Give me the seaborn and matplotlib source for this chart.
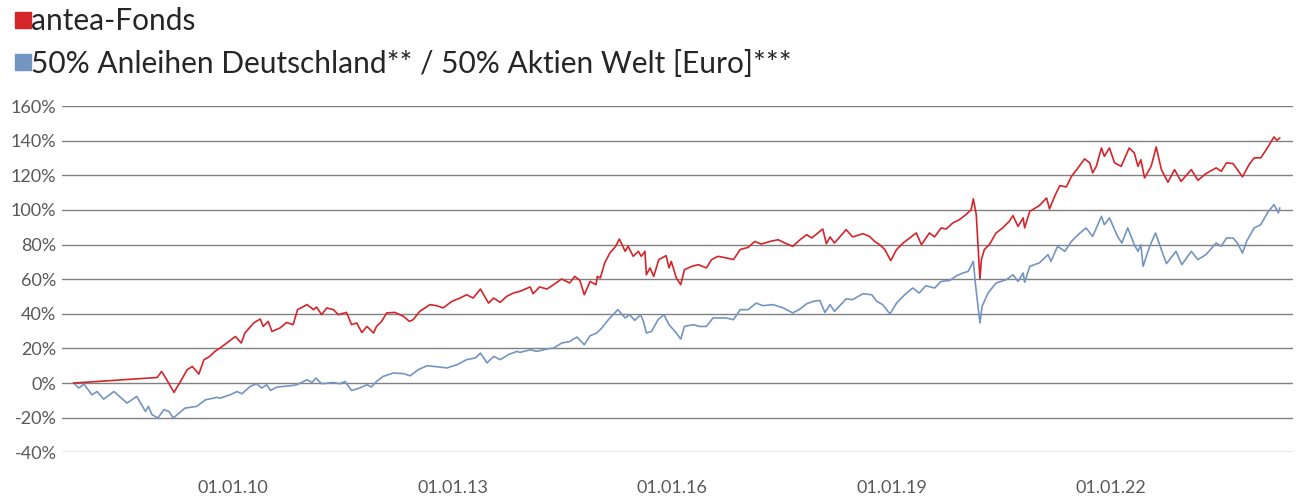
import pandas as pd
import numpy as np
import matplotlib
matplotlib.use("Agg")
import matplotlib.pyplot as plt
import matplotlib.dates as mdates
from matplotlib.lines import Line2D
import seaborn as sns

fonds_t = [2007.82, 2008.96, 2009.02, 2009.09, 2009.19, 2009.28, 2009.37, 2009.44, 2009.53, 2009.60,
           2009.68, 2009.75, 2009.82, 2009.91, 2010.03, 2010.11, 2010.16, 2010.28, 2010.37, 2010.41,
           2010.48, 2010.53, 2010.64, 2010.73, 2010.82, 2010.88, 2011.01, 2011.10, 2011.14, 2011.21,
           2011.28, 2011.37, 2011.44, 2011.55, 2011.62, 2011.69, 2011.76, 2011.83, 2011.92, 2011.96,
           2012.03, 2012.10, 2012.21, 2012.33, 2012.41, 2012.46, 2012.55, 2012.69, 2012.78, 2012.87,
           2012.99, 2013.10, 2013.19, 2013.28, 2013.38, 2013.49, 2013.56, 2013.65, 2013.74, 2013.83,
           2013.92, 2014.06, 2014.10, 2014.19, 2014.29, 2014.38, 2014.49, 2014.60, 2014.67, 2014.74,
           2014.80, 2014.88, 2014.96, 2014.98, 2015.02, 2015.08, 2015.15, 2015.23, 2015.28, 2015.36,
           2015.40, 2015.47, 2015.54, 2015.58, 2015.63, 2015.65, 2015.70, 2015.75, 2015.82, 2015.92,
           2015.96, 2015.99, 2016.06, 2016.12, 2016.17, 2016.27, 2016.36, 2016.47, 2016.54, 2016.63,
           2016.74, 2016.84, 2016.93, 2017.04, 2017.13, 2017.22, 2017.34, 2017.45, 2017.54, 2017.65,
           2017.75, 2017.84, 2017.91, 2018.02, 2018.06, 2018.11, 2018.16, 2018.22, 2018.38, 2018.47,
           2018.61, 2018.70, 2018.77, 2018.84, 2018.91, 2018.99, 2019.07, 2019.16, 2019.27, 2019.34,
           2019.41, 2019.52, 2019.59, 2019.68, 2019.75, 2019.84, 2019.93, 2020.02, 2020.09, 2020.12,
           2020.16, 2020.18, 2020.21, 2020.23, 2020.27, 2020.34, 2020.43, 2020.52, 2020.61, 2020.66,
           2020.73, 2020.80, 2020.82, 2020.89, 2021.02, 2021.12, 2021.16, 2021.23, 2021.30, 2021.39,
           2021.46, 2021.55, 2021.64, 2021.71, 2021.75, 2021.80, 2021.87, 2021.91, 2021.98, 2022.05,
           2022.14, 2022.25, 2022.32, 2022.37, 2022.41, 2022.46, 2022.55, 2022.62, 2022.69, 2022.78,
           2022.87, 2022.96, 2023.10, 2023.19, 2023.30, 2023.44, 2023.51, 2023.58, 2023.67, 2023.73,
           2023.80, 2023.89, 2023.96, 2024.05, 2024.14, 2024.23, 2024.27, 2024.31]
fonds_v = [0.0, 3.2, 6.7, 2.0, -5.4, 1.0, 7.7, 9.6, 5.2, 13.5,
           15.4, 18.3, 20.2, 23.1, 26.9, 23.1, 28.9, 34.7, 37.0, 32.7,
           35.6, 29.8, 31.8, 35.0, 33.7, 42.4, 45.3, 42.4, 43.9, 39.5,
           43.4, 42.4, 39.5, 40.8, 33.7, 34.7, 29.2, 32.7, 28.9, 32.7,
           35.6, 40.5, 40.8, 38.5, 35.6, 36.6, 41.4, 45.3, 44.7, 43.4,
           47.2, 49.1, 51.0, 49.1, 54.3, 46.2, 49.1, 46.6, 50.1, 52.0,
           53.0, 55.5, 51.6, 55.5, 54.3, 56.8, 60.1, 57.8, 61.6, 59.3,
           51.0, 58.7, 56.8, 61.6, 60.7, 69.4, 75.1, 79.0, 83.2, 76.1,
           79.0, 73.2, 76.1, 73.2, 76.1, 62.6, 66.5, 61.6, 71.3, 73.6,
           66.5, 70.3, 60.7, 56.8, 65.5, 67.4, 68.4, 66.5, 71.3, 73.2,
           72.3, 71.3, 77.1, 78.4, 81.8, 80.3, 81.8, 82.8, 80.9, 79.0,
           82.8, 85.7, 83.8, 87.6, 89.0, 80.5, 84.4, 80.9, 88.6, 84.4,
           86.3, 84.7, 81.8, 79.9, 77.1, 70.7, 77.1, 80.9, 84.4, 86.7,
           79.9, 86.7, 84.4, 89.6, 89.0, 92.5, 94.4, 97.3, 100.2, 106.4,
           97.3, 82.8, 60.1, 71.3, 77.1, 80.0, 86.7, 89.6, 93.4, 96.7,
           90.5, 95.4, 89.6, 99.2, 102.5, 106.9, 100.6, 107.9, 114.0, 113.3,
           119.4, 124.3, 129.5, 127.2, 121.4, 125.2, 135.8, 131.0, 135.8, 127.2,
           125.2, 135.8, 132.9, 125.2, 129.0, 118.5, 125.2, 136.4, 123.3, 116.0,
           123.3, 116.5, 123.3, 117.1, 121.0, 124.3, 122.3, 127.2, 126.8, 123.3,
           119.1, 126.2, 130.1, 130.1, 135.8, 142.2, 140.2, 141.6]

bench_t = [2007.82, 2007.89, 2007.96, 2008.07, 2008.14, 2008.23, 2008.37, 2008.55, 2008.68, 2008.80,
           2008.84, 2008.89, 2008.97, 2009.05, 2009.12, 2009.18, 2009.34, 2009.50, 2009.62, 2009.78,
           2009.82, 2009.96, 2010.05, 2010.12, 2010.23, 2010.32, 2010.39, 2010.46, 2010.51, 2010.60,
           2010.78, 2010.87, 2011.01, 2011.08, 2011.13, 2011.21, 2011.37, 2011.46, 2011.53, 2011.62,
           2011.73, 2011.83, 2011.89, 2011.96, 2012.05, 2012.19, 2012.33, 2012.42, 2012.53, 2012.65,
           2012.83, 2012.92, 2013.06, 2013.19, 2013.31, 2013.38, 2013.47, 2013.56, 2013.65, 2013.76,
           2013.88, 2013.92, 2014.06, 2014.15, 2014.29, 2014.38, 2014.49, 2014.60, 2014.70, 2014.80,
           2014.88, 2014.97, 2015.04, 2015.13, 2015.26, 2015.36, 2015.42, 2015.49, 2015.57, 2015.61,
           2015.65, 2015.72, 2015.81, 2015.89, 2015.96, 2016.06, 2016.12, 2016.17, 2016.29, 2016.38,
           2016.47, 2016.56, 2016.74, 2016.84, 2016.93, 2017.04, 2017.15, 2017.24, 2017.38, 2017.52,
           2017.65, 2017.75, 2017.84, 2017.93, 2018.02, 2018.09, 2018.16, 2018.22, 2018.38, 2018.47,
           2018.61, 2018.73, 2018.80, 2018.88, 2018.98, 2019.07, 2019.18, 2019.29, 2019.38, 2019.47,
           2019.59, 2019.68, 2019.80, 2019.89, 2019.98, 2020.05, 2020.12, 2020.15, 2020.21, 2020.24,
           2020.32, 2020.43, 2020.57, 2020.66, 2020.73, 2020.80, 2020.82, 2020.89, 2021.02, 2021.14,
           2021.18, 2021.27, 2021.37, 2021.46, 2021.55, 2021.66, 2021.75, 2021.87, 2021.91, 2021.98,
           2022.05, 2022.09, 2022.15, 2022.23, 2022.32, 2022.37, 2022.41, 2022.44, 2022.53, 2022.61,
           2022.69, 2022.76, 2022.89, 2022.97, 2023.10, 2023.19, 2023.30, 2023.44, 2023.51, 2023.58,
           2023.67, 2023.73, 2023.80, 2023.86, 2023.96, 2024.05, 2024.14, 2024.23, 2024.29, 2024.31]
bench_v = [0.0, -2.9, -0.6, -6.8, -4.9, -9.3, -4.9, -11.6, -7.7, -16.4,
           -13.5, -18.3, -20.2, -15.4, -16.4, -20.2, -14.5, -13.5, -9.7, -8.3,
           -8.7, -6.8, -4.9, -6.2, -2.0, -0.4, -2.9, -1.0, -4.3, -2.3,
           -1.6, -1.0, 1.9, 0.3, 2.9, -0.4, 0.3, -0.4, 0.9, -4.3,
           -2.9, -1.0, -2.3, 0.9, 3.8, 5.8, 5.4, 4.2, 7.7, 10.0,
           9.2, 8.7, 10.6, 13.5, 14.5, 17.3, 11.6, 15.4, 13.5, 16.4,
           18.3, 17.7, 19.2, 18.3, 19.7, 20.2, 23.1, 24.0, 26.6, 22.1,
           27.3, 28.9, 31.8, 36.6, 42.4, 37.6, 39.5, 36.2, 39.5, 35.6,
           28.9, 29.8, 36.6, 39.5, 33.7, 28.9, 25.4, 32.7, 33.7, 32.7,
           32.7, 37.6, 37.6, 36.6, 42.4, 42.4, 46.2, 44.7, 45.3, 43.4,
           40.5, 42.8, 45.8, 47.2, 47.7, 40.8, 45.3, 41.4, 48.6, 48.2,
           51.6, 51.0, 47.2, 45.3, 39.9, 46.2, 51.0, 54.9, 52.0, 56.2,
           54.9, 58.7, 59.3, 62.0, 63.6, 64.5, 70.3, 56.8, 34.7, 44.3,
           52.0, 57.8, 59.7, 62.6, 58.7, 63.6, 58.2, 67.4, 69.4, 74.2,
           70.3, 79.0, 76.1, 81.8, 85.7, 89.6, 84.7, 96.3, 91.5, 95.4,
           88.6, 84.7, 80.9, 89.6, 79.9, 76.1, 79.9, 67.4, 79.0, 86.7,
           77.1, 69.0, 76.1, 68.4, 76.1, 71.3, 74.2, 80.9, 79.0, 83.8,
           83.8, 80.9, 75.1, 82.2, 89.6, 91.5, 98.3, 103.1, 98.3, 101.2]

series_names = ["antea-Fonds", "50% Anleihen Deutschland** / 50% Aktien Welt [Euro]***"]
y_ticks = [-40, -20, 0, 20, 40, 60, 80, 100, 120, 140, 160]
x_tick_years = [2010, 2013, 2016, 2019, 2022]


def to_date(y):
    year = int(np.floor(y))
    start = pd.Timestamp(year=year, month=1, day=1)
    end = pd.Timestamp(year=year + 1, month=1, day=1)
    return start + (end - start) * (y - year)


df = pd.concat([
    pd.DataFrame({"Datum": [to_date(t) for t in fonds_t], "Wert": fonds_v, "Serie": series_names[0]}),
    pd.DataFrame({"Datum": [to_date(t) for t in bench_t], "Wert": bench_v, "Serie": series_names[1]}),
])

red = "#d4252b"
blue = "#7395c2"
farben = {series_names[0]: red, series_names[1]: blue}

sns.set_style("white")
plt.rcParams["font.family"] = ["Lato", "DejaVu Sans"]

fig = plt.figure(figsize=(12.99, 4.98), dpi=100)
ax = fig.add_axes([0.0477, 0.0918, 0.9477, 0.6952])

# Benchmark zuerst, Fonds darueber
sns.lineplot(data=df, x="Datum", y="Wert", hue="Serie", palette=farben,
             hue_order=series_names[::-1], estimator=None, linewidth=1.2, ax=ax, legend=False)

ax.set_ylim(-40, 160)
ax.set_xlim(to_date(2007.66), to_date(2024.49))
ax.set_yticks(y_ticks)
ax.set_yticklabels([f"{v}%" for v in y_ticks])
ax.set_xticks([pd.Timestamp(year=y, month=1, day=1) for y in x_tick_years])
ax.xaxis.set_major_formatter(mdates.DateFormatter("%d.%m.%y"))
ax.grid(axis="y", color="#808080", linewidth=1)
ax.set_axisbelow(True)
for s in ax.spines.values():
    s.set_visible(False)
ax.tick_params(axis="y", length=0, pad=4, labelsize=13, labelcolor="#595959")
ax.tick_params(axis="x", length=0, pad=20, labelsize=13, labelcolor="#595959")
ax.set_xlabel("")
ax.set_ylabel("")

handles = [Line2D([], [], marker="s", linestyle="none", markersize=11, color=red),
           Line2D([], [], marker="s", linestyle="none", markersize=11, color=blue)]
fig.legend(handles, series_names, loc="upper left", bbox_to_anchor=(0.003, 1.01),
           frameon=False, fontsize=21.5, handlelength=0.45, handletextpad=0.05,
           labelspacing=0.5, borderaxespad=0)

fig.savefig("out.png", dpi=100)
